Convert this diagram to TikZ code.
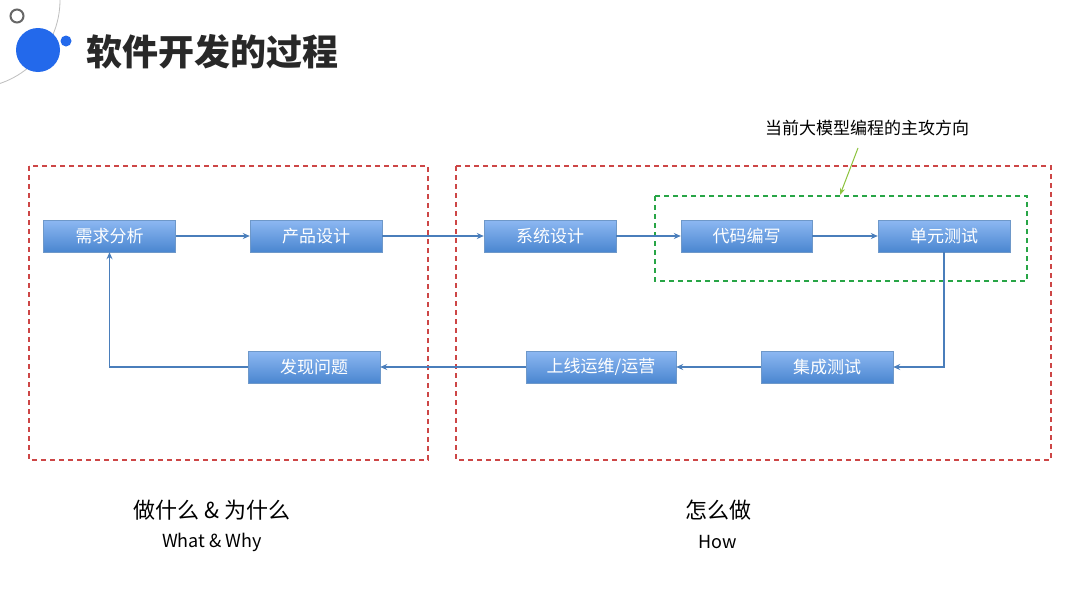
\documentclass[tikz,border=0pt]{standalone}
\usepackage{fontspec}
\setmainfont{Noto Sans CJK SC}
\usetikzlibrary{arrows.meta}
\definecolor{bx}{HTML}{4A86D0}
\definecolor{bxt}{HTML}{8DB8F2}
\definecolor{ln}{HTML}{4A7EBB}
\definecolor{dot}{RGB}{35,105,235}
\definecolor{ttl}{RGB}{40,40,40}
\definecolor{redd}{RGB}{205,70,70}
\definecolor{grn}{RGB}{40,165,70}
\definecolor{lgrn}{RGB}{140,195,60}
\tikzset{
 box/.style={draw=ln!80!white, top color=bxt, bottom color=bx, text=white, minimum width=#1, minimum height=32pt, inner sep=0pt, font=\fontsize{17pt}{17pt}\selectfont},
 box/.default=132pt,
 con/.style={draw=ln, line width=1.6pt, -{Stealth[length=7pt,width=6pt]}},
 fr/.style={draw=#1, line width=1.4pt, dash pattern=on 5pt off 4pt}
}
\begin{document}
\begin{tikzpicture}[x=1pt,y=-1pt]
\useasboundingbox (0,0) rectangle (1080,608);
\fill[white] (0,0) rectangle (1080,608);
\begin{scope}
\clip (0,0) rectangle (1080,608);
\draw[gray!50, line width=0.8pt] (-28,0) circle (88);
\end{scope}
\draw[gray!80!black, line width=2pt] (17,16) circle (6.5);
\fill[dot] (38,50) circle (22);
\fill[dot] (66,41) circle (5.5);
\node[anchor=west, font=\fontsize{36pt}{36pt}\selectfont\bfseries, text=ttl] (title) at (83,52) {软件开发的过程};
\draw[fr=redd] (29,166) rectangle (428,460);
\draw[fr=redd] (456,166) rectangle (1051,460);
\draw[fr=grn] (655,196) rectangle (1027,281);
\node[box] (a) at (109.5,236) {需求分析};
\node[box] (b) at (316,236) {产品设计};
\node[box] (c) at (550,236) {系统设计};
\node[box=131pt] (d) at (746.5,236) {代码编写};
\node[box] (e) at (944,236) {单元测试};
\node[box] (f) at (827,367) {集成测试};
\node[box=150pt] (g) at (601,367) {上线运维/运营};
\node[box] (h) at (314,367) {发现问题};
\draw[con] (a) -- (b);
\draw[con] (b) -- (c);
\draw[con] (c) -- (d);
\draw[con] (d) -- (e);
\draw[con] (e.south) |- (f.east);
\draw[con] (f) -- (g);
\draw[con] (g) -- (h);
\draw[con] (h.west) -| (a.south);
\node[font=\fontsize{17pt}{17pt}\selectfont] (ann) at (867,128) {当前大模型编程的主攻方向};
\coordinate (annt) at (840,195);
\draw[draw=lgrn, line width=1pt, -{Stealth[length=7pt]}] (858,148) -- (annt);
\node[font=\fontsize{22pt}{22pt}\selectfont] (l1) at (212,510) {做什么 \& 为什么};
\node[font=\fontsize{18pt}{18pt}\selectfont] (l2) at (212,542) {What \& Why};
\node[font=\fontsize{22pt}{22pt}\selectfont] (r1) at (718,510) {怎么做};
\node[font=\fontsize{18pt}{18pt}\selectfont] (r2) at (718,542) {How};
\end{tikzpicture}
\end{document}
